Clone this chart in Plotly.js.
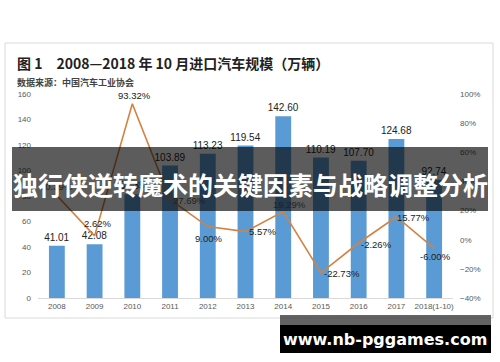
<!DOCTYPE html>
<html>
<head>
<meta charset="utf-8">
<script src="https://cdn.plot.ly/plotly-3.0.1.min.js"></script>
<style>
html,body{margin:0;padding:0;background:#fff;}
#chart{width:500px;height:362px;}
</style>
</head>
<body>
<div id="chart"></div>
<script>
// ---- data ----
const years = ['2008','2009','2010','2011','2012','2013','2014','2015','2016','2017','2018(1-10)'];
const imports = [41.01, 42.08, 81.35, 103.89, 113.23, 119.54, 142.60, 110.19, 107.70, 124.68, 92.74];
const growth = [30.39, 2.62, 93.32, 27.69, 9.00, 5.57, 19.29, -22.73, -2.26, 15.77, -6.00];
const chartTitle = '图 1　2008—2018 年 10 月进口汽车规模（万辆）';
const sourceText = '数据来源：中国汽车工业协会';
const bannerText = '独行侠逆转魔术的关键因素与战略调整分析';
const watermarkText = 'www.nb-pggames.com';

// label offsets (pixels) for the growth-rate labels
const labelDx = [0, 3, 2, 19, 1, 17, 6, 21, 18, 17, 1];
const labelDy = [9, 12, 8, -1, -12, 0, 7, -1, -1, -1, -8];

// ---- pixel -> paper helpers (plot area: x 38..453, y 94..298) ----
const L = 38, R = 453, T = 94, B = 298;
const px = x => (x - L) / (R - L);
const py = y => (B - y) / (B - T);

const numFont = 'Liberation Sans, Arial, sans-serif';
const cjkFont = 'Noto Sans CJK SC, sans-serif';

const barTrace = {
  type: 'bar',
  x: years,
  y: imports,
  marker: {color: '#5b9bd5'},
  text: imports.map(v => v.toFixed(2)),
  textposition: 'outside',
  constraintext: 'none',
  textfont: {family: numFont, size: 10, color: '#222'},
  cliponaxis: false,
  hoverinfo: 'skip'
};

const lineTrace = {
  type: 'scatter',
  mode: 'lines',
  x: years,
  y: growth,
  yaxis: 'y2',
  line: {color: '#d4823f', width: 1.6},
  cliponaxis: false,
  hoverinfo: 'skip'
};

// category index i is the position of years[i] on the category axis
const growthAnnotations = growth.map((g, i) => ({
  xref: 'x', yref: 'y2', x: i, y: g,
  xshift: labelDx[i], yshift: labelDy[i],
  xanchor: 'center', yanchor: 'middle',
  text: g.toFixed(2) + '%', showarrow: false,
  font: {family: numFont, size: 9.5, color: '#222'}
}));

const layout = {
  width: 500,
  height: 362,
  margin: {l: L, r: 500 - R, t: T, b: 362 - B, pad: 0},
  paper_bgcolor: '#ffffff',
  plot_bgcolor: '#ffffff',
  showlegend: false,
  bargap: 0.58,
  xaxis: {
    type: 'category',
    categoryorder: 'array',
    categoryarray: years,
    range: [-0.5, years.length - 0.5],
    showline: true,
    linecolor: '#d9d9d9',
    linewidth: 1,
    showgrid: false,
    zeroline: false,
    ticks: '',
    tickfont: {family: numFont, size: 8, color: '#595959'}
  },
  yaxis: {
    range: [0, 160],
    dtick: 20,
    showgrid: false,
    zeroline: false,
    showline: false,
    ticks: '',
    ticklabelstandoff: 6,
    tickfont: {family: numFont, size: 8, color: '#595959'}
  },
  yaxis2: {
    overlaying: 'y',
    side: 'right',
    range: [-40, 100],
    dtick: 20,
    ticksuffix: '%',
    showgrid: false,
    zeroline: false,
    showline: false,
    ticks: '',
    ticklabelstandoff: 6,
    tickfont: {family: numFont, size: 8, color: '#595959'}
  },
  shapes: [
    // chart frame
    {type: 'rect', xref: 'paper', yref: 'paper', x0: px(5), x1: px(493), y0: py(318), y1: py(43),
     line: {color: '#d9d9d9', width: 1}, fillcolor: 'rgba(0,0,0,0)', layer: 'below'},
    // banner
    {type: 'rect', xref: 'paper', yref: 'paper', x0: px(12), x1: px(488), y0: py(211), y1: py(147),
     line: {width: 0}, fillcolor: 'rgba(0,0,0,0.64)', layer: 'above'},
    // watermark strip
    {type: 'rect', xref: 'paper', yref: 'paper', x0: px(280), x1: px(491), y0: py(325), y1: py(315),
     line: {width: 0}, fillcolor: 'rgba(60,60,60,0.8)', layer: 'above'},
    {type: 'rect', xref: 'paper', yref: 'paper', x0: px(280), x1: px(491), y0: py(353), y1: py(325),
     line: {width: 0}, fillcolor: '#000000', layer: 'above'}
  ],
  annotations: growthAnnotations.concat([
    {xref: 'paper', yref: 'paper', x: px(15), y: py(63), xanchor: 'left', yanchor: 'middle',
     text: '<b>' + chartTitle + '</b>', showarrow: false,
     font: {family: cjkFont, size: 14, color: '#222'}},
    {xref: 'paper', yref: 'paper', x: px(15), y: py(82), xanchor: 'left', yanchor: 'middle',
     text: '<b>' + sourceText + '</b>', showarrow: false,
     font: {family: cjkFont, size: 9, color: '#444'}},
    {xref: 'paper', yref: 'paper', x: px(250), y: py(184), xanchor: 'center', yanchor: 'middle',
     text: '<b>' + bannerText + '</b>', showarrow: false,
     font: {family: cjkFont, size: 25, color: '#ffffff'}},
    {xref: 'paper', yref: 'paper', x: px(385), y: py(339), xanchor: 'center', yanchor: 'middle',
     text: '<b>' + watermarkText + '</b>', showarrow: false,
     font: {family: 'DejaVu Sans, sans-serif', size: 16, color: '#ffffff'}}
  ])
};

Plotly.newPlot('chart', [barTrace, lineTrace], layout, {staticPlot: true, displayModeBar: false});
</script>
</body>
</html>
